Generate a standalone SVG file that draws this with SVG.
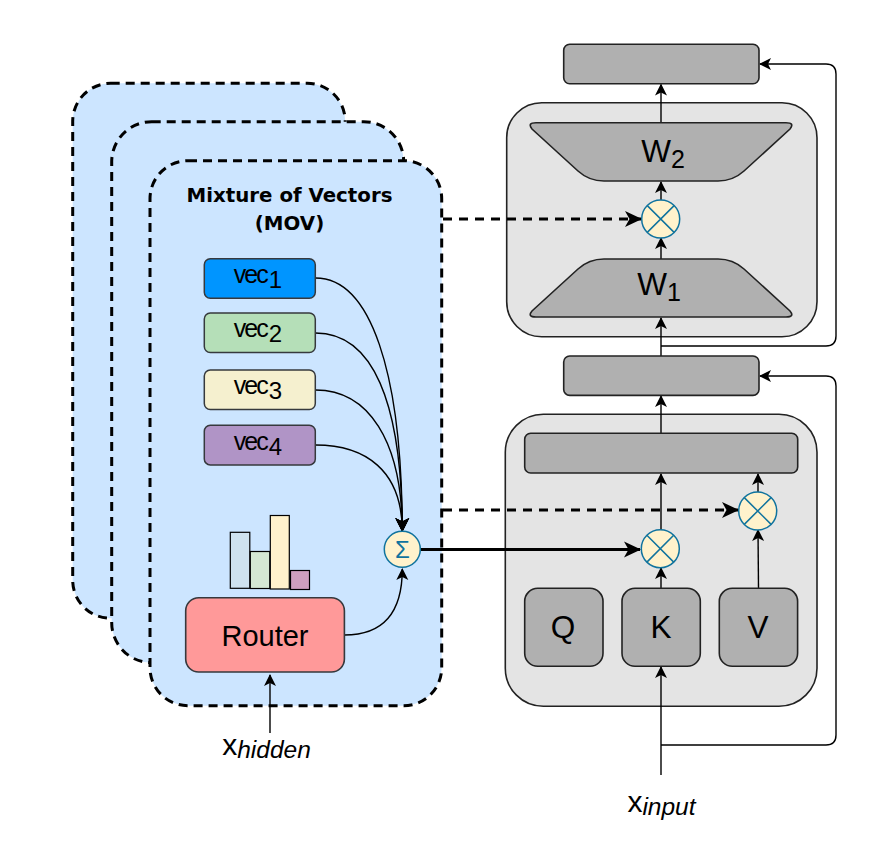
<svg xmlns="http://www.w3.org/2000/svg" width="880" height="850" viewBox="0 0 880 850">
<style>
text{font-family:"Liberation Sans",Arial,sans-serif;fill:#000;text-anchor:middle}
.title{font-family:"DejaVu Sans",sans-serif;font-size:19.8px;font-weight:700}
.card{fill:#cce5ff;stroke:#000;stroke-width:3;stroke-dasharray:9 6}
.grp{fill:#e4e4e4;stroke:#222;stroke-width:1.6}
.box{fill:#b0b0b0;stroke:#222;stroke-width:1.6}
.vec{stroke:#36393d;stroke-width:1.5}
.bar{stroke:#000;stroke-width:1.2}
.op{fill:#fff2cc;stroke:#10739e;stroke-width:1.5}
.x{fill:none;stroke:#10739e;stroke-width:1.5}
.c{fill:none;stroke:#000;stroke-width:1.4}
.thin{marker-end:url(#a)}
.conv{marker-end:url(#d)}
.big{fill:none;stroke:#000;stroke-width:3;marker-end:url(#b)}
.dash{stroke-dasharray:9 7}
.vt{font-size:25px;letter-spacing:-2px}
.vs{font-size:24px;letter-spacing:0}
.lg{font-size:31.500px}
.sub{font-size:25px}
.xl{font-size:30px}
.xs{font-size:24.500px;font-style:italic}
</style>
<defs>
<marker id="a" markerUnits="userSpaceOnUse" markerWidth="14" markerHeight="14" refX="11" refY="6.5" orient="auto"><path d="M12,6.5 L0,0.5 L3,6.5 L0,12.5 Z" fill="#000"/></marker>
<marker id="d" markerUnits="userSpaceOnUse" markerWidth="16" markerHeight="16" refX="13" refY="7.5" orient="auto"><path d="M14,7.500 L0,0.500 L3.500,7.500 L0,14.500 Z" fill="#000"/></marker>
<marker id="b" markerUnits="userSpaceOnUse" markerWidth="20" markerHeight="20" refX="16" refY="8.5" orient="auto"><path d="M17,8.5 L0,0.5 L4.5,8.5 L0,16.5 Z" fill="#000"/></marker>
<g id="otimes"><circle class="op" r="19"/><path class="x" d="M-13.4,-13.4 L13.4,13.4 M-13.4,13.4 L13.4,-13.4"/></g>
</defs>

<g id="card-back"><rect class="card" x="72.7" y="83.3" width="272.5" height="535" rx="38"/></g>
<g id="card-mid"><rect class="card" x="111.7" y="121.7" width="292" height="541" rx="40"/></g>
<g id="card-front"><rect class="card" x="150" y="160.7" width="291.7" height="545" rx="38"/>
<text x="289.500" y="202" class="title">Mixture of Vectors</text>
<text x="289.500" y="230" class="title">(MOV)</text></g>

<g id="group-top"><rect class="grp" x="506.7" y="102.7" width="310.3" height="234" rx="35"/></g>
<g id="group-bottom"><rect class="grp" x="505.3" y="414.3" width="311.7" height="292" rx="38"/></g>

<g id="connectors">
<path class="c conv" d="M315.5,278 C370,278 402,370 402.3,531"/>
<path class="c conv" d="M315.5,333 C372,333 402,400 402.3,531"/>
<path class="c conv" d="M315.5,390 C368,390 402,440 402.3,531"/>
<path class="c conv" d="M315.5,445 C365,445 402,470 402.3,531"/>
<path class="c thin" d="M344.5,635 C385,635 402.3,610 402.3,569"/>
<path class="c thin" d="M270,733 L270,675"/>
<path class="big" d="M420.5,549.500 L640,549.500"/>
<path class="big dash" d="M443,219 L641,219"/>
<path class="big dash" d="M443,510 L738,510"/>
<path class="c thin" d="M661,775 L661,667"/>
<path class="c thin" d="M661,745 L826,745 Q836,745 836,735 L836,386 Q836,376 826,376 L760,376"/>
<path class="c thin" d="M661,346 L826,346 Q836,346 836,336 L836,74 Q836,64 826,64 L760,64"/>
<path class="c thin" d="M661,588 L661,568"/>
<path class="c thin" d="M661,530 L661,474"/>
<path class="c thin" d="M758.5,588 L758,530"/>
<path class="c thin" d="M758,492 L758,474"/>
<path class="c thin" d="M661,433 L661,396"/>
<path class="c thin" d="M661,356 L661,318"/>
<path class="c thin" d="M661,259 L661,238"/>
<path class="c thin" d="M661,200 L661,182"/>
<path class="c thin" d="M661,123 L661,84.500"/>
</g>

<g id="vec1"><rect class="vec" x="204.3" y="258.7" width="111" height="39.600" rx="6" fill="#0095ff"/><text x="258" y="283" class="vt">vec<tspan class="vs" dy="5" dx="2">1</tspan></text></g>
<g id="vec2"><rect class="vec" x="204.3" y="313" width="111" height="39.600" rx="6" fill="#b5dfb8"/><text x="258" y="337" class="vt">vec<tspan class="vs" dy="5" dx="2">2</tspan></text></g>
<g id="vec3"><rect class="vec" x="204.3" y="370" width="111" height="39.600" rx="6" fill="#f5f0cf"/><text x="258" y="394" class="vt">vec<tspan class="vs" dy="5" dx="2">3</tspan></text></g>
<g id="vec4"><rect class="vec" x="204.3" y="425.3" width="111" height="39.600" rx="6" fill="#b094c6"/><text x="258" y="450" class="vt">vec<tspan class="vs" dy="5" dx="2">4</tspan></text></g>

<g id="histogram">
<rect class="bar" x="230.3" y="532.3" width="19.500" height="56" fill="#cfe2ef"/>
<rect class="bar" x="250.3" y="551.500" width="19.500" height="37" fill="#d5e8d4"/>
<rect class="bar" x="270.3" y="515.500" width="19" height="73.500" fill="#fff2cc"/>
<rect class="bar" x="290.5" y="570.500" width="19" height="19" fill="#cfa0bf"/>
</g>
<g id="router"><rect x="185.7" y="597.7" width="158.700" height="74.300" rx="13" fill="#ff9999" stroke="#36393d" stroke-width="1.600"/><text x="265" y="646" font-size="29">Router</text></g>
<g id="sum"><circle class="op" cx="402.3" cy="549.3" r="18"/><text x="402.3" y="558" font-size="24" style="fill:#10739e">Σ</text></g>

<g id="out-top"><rect class="box" x="563.7" y="44.300" width="195.300" height="39.400" rx="6"/></g>
<g id="out-mid"><rect class="box" x="563.7" y="356" width="195.300" height="39.400" rx="6"/></g>
<g id="w2"><path class="box" d="M536,122.700 L786,122.700 Q795,122.700 790,129 L744,171 Q733,181 718,181 L604,181 Q589,181 578,171 L532,129 Q527,122.700 536,122.700 Z"/><text x="663" y="162" class="lg">W<tspan class="sub" dy="6">2</tspan></text></g>
<g id="w1"><path class="box" d="M536,317 L786,317 Q795,317 790,311 L744,269 Q733,259 718,259 L604,259 Q589,259 578,269 L532,311 Q527,317 536,317 Z"/><text x="659" y="295" class="lg">W<tspan class="sub" dy="6">1</tspan></text></g>
<g id="mul-top"><use href="#otimes" x="660.7" y="219"/></g>

<g id="bar"><rect class="box" x="524.7" y="433.3" width="273" height="39.700" rx="6"/></g>
<g id="q"><rect class="box" x="524.7" y="588.3" width="78.300" height="78" rx="13"/><text x="563" y="638" class="lg">Q</text></g>
<g id="k"><rect class="box" x="622" y="588.3" width="78.300" height="78" rx="13"/><text x="661" y="638" class="lg">K</text></g>
<g id="v"><rect class="box" x="719.3" y="588.3" width="78.300" height="78" rx="13"/><text x="758" y="638" class="lg">V</text></g>
<g id="mul-k"><use href="#otimes" x="660.3" y="548.7"/></g>
<g id="mul-v"><use href="#otimes" x="757.7" y="511"/></g>

<g id="x-hidden"><text x="266.500" y="755" class="xl">x<tspan class="xs" dy="3">hidden</tspan></text></g>
<g id="x-input"><text x="661.500" y="812" class="xl">x<tspan class="xs" dy="3">input</tspan></text></g>
</svg>
